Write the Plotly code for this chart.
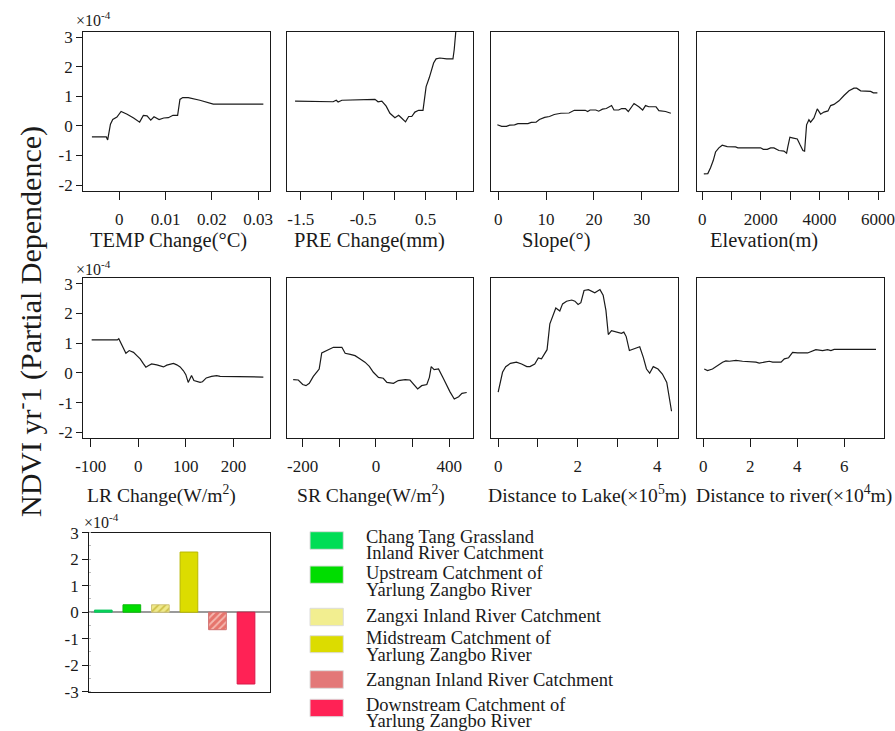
import plotly.graph_objects as go

# ---------------- data (partial dependence, units of 1e-4) ----------------
temp_x = [-0.0059, -0.0028, -0.0025, -0.0019, -0.0014, -0.0005, 0.0004, 0.0017, 0.0031, 0.0044,
          0.0052, 0.0060, 0.0068, 0.0075, 0.0086, 0.0096, 0.0106, 0.0116, 0.0126, 0.0131,
          0.0137, 0.0149, 0.0174, 0.0203, 0.0311]
temp_y = [-0.37, -0.37, -0.47, 0.06, 0.22, 0.30, 0.49, 0.40, 0.27, 0.13,
          0.36, 0.34, 0.20, 0.31, 0.22, 0.27, 0.28, 0.36, 0.36, 0.90,
          0.96, 0.96, 0.87, 0.74, 0.74]

pre_x = [-1.59, -0.98, -0.93, -0.90, -0.84, -0.36, -0.31, -0.26, -0.20, -0.13, -0.07, 0.01,
         0.07, 0.12, 0.18, 0.23, 0.28, 0.33, 0.39, 0.46, 0.48, 0.51, 0.56, 0.63, 0.67,
         0.73, 0.84, 0.94, 0.96, 0.97, 0.99]
pre_y = [0.84, 0.82, 0.87, 0.81, 0.87, 0.88, 0.90, 0.82, 0.84, 0.67, 0.43, 0.28,
         0.36, 0.26, 0.14, 0.32, 0.32, 0.47, 0.53, 0.53, 0.90, 1.33, 1.63, 2.13, 2.27,
         2.30, 2.27, 2.27, 2.58, 3.03, 3.30]

slope_x = [-0.2, 0.7, 1.7, 2.4, 3.4, 4.1, 6.2, 6.9, 7.9, 8.6, 9.7, 10.7, 11.7, 13.1, 14.8,
           15.9, 18.2, 18.7, 19.2, 20.4, 21.0, 21.8, 22.6, 23.3, 23.7, 24.2, 25.2, 25.8,
           26.6, 27.2, 27.9, 28.4, 29.4, 30.2, 30.8, 31.5, 33.0, 33.6, 35.0, 36.1]
slope_y = [0.04, -0.01, -0.01, 0.03, 0.04, 0.08, 0.08, 0.12, 0.13, 0.22, 0.29, 0.32, 0.39,
           0.43, 0.44, 0.53, 0.53, 0.49, 0.54, 0.54, 0.50, 0.57, 0.59, 0.66, 0.69, 0.54,
           0.54, 0.59, 0.59, 0.49, 0.63, 0.76, 0.65, 0.54, 0.69, 0.65, 0.65, 0.52, 0.49, 0.43]

elev_x = [55, 191, 284, 376, 455, 568, 683, 853, 1138, 1218, 1992, 2083, 2220, 2334, 2447,
          2618, 2789, 2880, 2925, 2993, 3073, 3244, 3335, 3437, 3494, 3562, 3642, 3699,
          3813, 3927, 4041, 4155, 4292, 4383, 4497, 4668, 4839, 5010, 5180, 5271, 5408,
          5750, 5841, 5978]
elev_y = [-1.62, -1.61, -1.41, -1.17, -0.88, -0.74, -0.65, -0.70, -0.71, -0.74, -0.74, -0.79,
          -0.79, -0.74, -0.74, -0.83, -0.85, -0.92, -0.69, -0.38, -0.40, -0.44, -0.63, -0.83,
          -0.85, 0.04, 0.21, 0.13, 0.27, 0.58, 0.40, 0.47, 0.51, 0.69, 0.73, 0.85, 1.03,
          1.19, 1.28, 1.28, 1.19, 1.17, 1.12, 1.12]

lr_x = [-98, -44, -41, -32, -26, -19, -10, -3, 4, 11, 16, 21, 28, 39, 46, 53, 60, 67, 74,
        81, 88, 95, 100, 105, 112, 117, 130, 135, 143, 154, 165, 172, 263]
lr_y = [1.11, 1.11, 1.15, 0.86, 0.66, 0.75, 0.69, 0.58, 0.47, 0.30, 0.19, 0.24, 0.30, 0.27,
        0.24, 0.20, 0.26, 0.30, 0.32, 0.27, 0.20, 0.07, -0.06, -0.32, -0.09, -0.26, -0.32,
        -0.30, -0.17, -0.12, -0.09, -0.12, -0.14]

sr_x = [-226, -212, -200, -191, -182, -171, -160, -155, -148, -139, -127, -116, -93, -84,
        -70, -57, -43, -30, -18, -7, 7, 20, 30, 48, 61, 80, 93, 102, 114, 125, 139, 146,
        151, 159, 171, 184, 193, 202, 214, 226, 235, 248]
sr_y = [-0.23, -0.24, -0.39, -0.43, -0.35, -0.12, 0.05, 0.13, 0.67, 0.73, 0.81, 0.86, 0.86,
        0.66, 0.62, 0.58, 0.47, 0.36, 0.22, 0.02, -0.15, -0.18, -0.32, -0.35, -0.26, -0.23,
        -0.24, -0.37, -0.54, -0.43, -0.39, -0.15, 0.21, 0.11, 0.13, -0.18, -0.43, -0.63,
        -0.88, -0.80, -0.69, -0.66]
sr_ticks = [-200, -100, 0, 100, 200]
sr_ticktext = ["-200", " ", "0", " ", "400"]

lake_x = [0.0, 0.06, 0.11, 0.19, 0.31, 0.46, 0.59, 0.72, 0.80, 0.92, 1.01, 1.09, 1.17, 1.23,
          1.30, 1.37, 1.45, 1.55, 1.62, 1.72, 1.85, 1.93, 2.01, 2.08, 2.16, 2.27, 2.43, 2.56,
          2.64, 2.71, 2.77, 2.85, 2.97, 3.10, 3.16, 3.22, 3.30, 3.40, 3.48, 3.56, 3.65, 3.73,
          3.81, 3.90, 4.02, 4.13, 4.24, 4.30, 4.36]
lake_y = [-0.65, -0.32, 0.02, 0.21, 0.32, 0.36, 0.30, 0.21, 0.21, 0.30, 0.50, 0.47, 0.64, 0.78,
          1.65, 1.88, 2.18, 2.08, 2.32, 2.41, 2.45, 2.41, 2.30, 2.36, 2.77, 2.80, 2.69, 2.80,
          2.61, 2.10, 1.29, 1.42, 1.37, 1.33, 1.37, 1.22, 0.75, 0.81, 0.84, 0.88, 0.52, 0.13,
          -0.01, 0.21, 0.13, -0.04, -0.32, -0.88, -1.29]

river_x = [0.04, 0.18, 0.39, 0.61, 0.82, 0.96, 1.11, 1.39, 1.67, 2.24, 2.38, 2.60, 2.81, 2.95,
           3.31, 3.45, 3.63, 3.80, 4.01, 4.44, 4.65, 4.79, 5.08, 5.29, 5.43, 5.57, 7.35]
river_y = [0.13, 0.08, 0.13, 0.25, 0.36, 0.40, 0.39, 0.42, 0.39, 0.36, 0.33, 0.36, 0.39, 0.36,
           0.36, 0.47, 0.51, 0.69, 0.67, 0.67, 0.73, 0.78, 0.75, 0.78, 0.75, 0.79, 0.79]

regions = ["Chang Tang Grassland<br>Inland River Catchment",
           "Upstream Catchment of<br>Yarlung Zangbo River",
           "Zangxi Inland River Catchment",
           "Midstream Catchment of<br>Yarlung Zangbo River",
           "Zangnan Inland River Catchment",
           "Downstream Catchment of<br>Yarlung Zangbo River"]
region_values = [0.08, 0.28, 0.28, 2.27, -0.66, -2.71]
region_colors = ["#00dd55", "#00dd00", "#efe98a", "#dcdc00", "#e6746c", "#ff2255"]
region_fg = ["#00dd55", "#00dd00", "#cfc24a", "#dcdc00", "#f6b8b0", "#ff2255"]
region_edge = ["#10c060", "#10b810", "#cfc47a", "#b8b800", "#d07070", "#d81848"]
region_pattern = ["", "", "/", "", "/", ""]
legend_colors = ["#00dd55", "#00dd00", "#f2ee90", "#dcdc00", "#e37878", "#ff2255"]

y_ticks = [-2, -1, 0, 1, 2, 3]
bar_ticks = [-3, -2, -1, 0, 1, 2, 3]

# ---------------- layout helpers ----------------
W, H = 895, 731
FONT = "Liberation Serif"


def px(x):
    return x / W


def py(y):
    return 1 - y / H


cols = [(83.3, 270.0), (286.7, 473.3), (491.0, 678.3), (696.5, 883.5)]
rows = [(32.0, 191.0), (278.3, 438.3)]
YR = [-2.2, 3.18]

panels = [
    dict(x=temp_x, y=temp_y, r=0, c=0, rng=[-0.00776, 0.03254], tv=[0, 0.01, 0.02, 0.03],
         tt=["0", "0.01", "0.02", "0.03"], title="TEMP Change(°C)", tx=168),
    dict(x=pre_x, y=pre_y, r=0, c=1, rng=[-1.724, 1.266], tv=[-1.5, -1, -0.5, 0, 0.5, 1],
         tt=["-1.5", " ", "-0.5", " ", "0.5", " "], title="PRE Change(mm)", tx=369),
    dict(x=slope_x, y=slope_y, r=0, c=2, rng=[-1.53, 37.66], tv=[0, 10, 20, 30],
         tt=["0", "10", "20", "30"], title="Slope(°)", tx=556),
    dict(x=elev_x, y=elev_y, r=0, c=3, rng=[-195, 6187],
         tv=[0, 1000, 2000, 3000, 4000, 5000, 6000],
         tt=["0", " ", "2000", " ", "4000", " ", "6000"], title="Elevation(m)", tx=764),
    dict(x=lr_x, y=lr_y, r=1, c=0, rng=[-115.6, 277], tv=[-100, 0, 100, 200],
         tt=["-100", "0", "100", "200"], title="LR Change(W/m<sup>2</sup>)", tx=161),
    dict(x=sr_x, y=sr_y, r=1, c=1, rng=[-243.7, 266], tv=sr_ticks,
         tt=sr_ticktext, title="SR Change(W/m<sup>2</sup>)", tx=371),
    dict(x=lake_x, y=lake_y, r=1, c=2, rng=[-0.18, 4.53], tv=[0, 1, 2, 3, 4],
         tt=["0", " ", "2", " ", "4"], title="Distance to Lake(×10<sup>5</sup>m)", tx=587),
    dict(x=river_x, y=river_y, r=1, c=3, rng=[-0.29, 7.67], tv=[0, 2, 4, 6],
         tt=["0", "2", "4", "6"], title="Distance to river(×10<sup>4</sup>m)", tx=794),
]

fig = go.Figure()
layout = dict(width=W, height=H, margin=dict(l=0, r=0, t=0, b=0, pad=0), autosize=False,
              paper_bgcolor="white", plot_bgcolor="white", showlegend=False,
              barmode="overlay",
              font=dict(family=FONT, size=17, color="#1a1a1a"))
annotations = []
shapes = []

axis_common = dict(showline=True, linecolor="#1a1a1a", linewidth=1.3, mirror=True,
                   showgrid=False, zeroline=False, tickcolor="#1a1a1a", tickwidth=1.3,
                   automargin=False, ticklabeloverflow="allow",
                   tickfont=dict(family=FONT, size=17, color="#1a1a1a"))

for i, p in enumerate(panels):
    n = i + 1
    xa = "xaxis" if n == 1 else f"xaxis{n}"
    ya = "yaxis" if n == 1 else f"yaxis{n}"
    x0, x1 = cols[p["c"]]
    y0, y1 = rows[p["r"]]
    fig.add_trace(go.Scatter(x=p["x"], y=p["y"], mode="lines",
                             line=dict(color="#1a1a1a", width=1.2),
                             xaxis=f"x{n}" if n > 1 else "x", yaxis=f"y{n}" if n > 1 else "y"))
    layout[xa] = dict(axis_common, domain=[px(x0), px(x1)], range=p["rng"],
                      anchor=f"y{n}" if n > 1 else "y", tickmode="array",
                      tickvals=p["tv"], ticktext=p["tt"], ticks="outside", ticklen=8,
                      ticklabelstandoff=4)
    showy = p["c"] == 0
    layout[ya] = dict(axis_common, domain=[py(y1), py(y0)], range=YR,
                      anchor=f"x{n}" if n > 1 else "x", tickmode="array",
                      tickvals=y_ticks, ticktext=[str(v) for v in y_ticks],
                      ticks="outside" if showy else "", ticklen=6, showticklabels=showy)
    title_y = 240 if p["r"] == 0 else 494
    tsize = 20.5 if p["r"] == 0 else 19.6
    annotations.append(dict(text=p["title"], x=px(p["tx"]), y=py(title_y), xref="paper",
                            yref="paper", showarrow=False, xanchor="center", yanchor="middle",
                            font=dict(family=FONT, size=tsize, color="#1a1a1a")))

# ---------------- bar panel (one trace per catchment) ----------------
for k, v in enumerate(region_values):
    mk = dict(color=region_colors[k], line=dict(color=region_edge[k], width=1))
    if region_pattern[k]:
        mk["pattern"] = dict(shape=region_pattern[k], fgcolor=region_fg[k],
                             bgcolor=region_colors[k], size=5, solidity=0.35,
                             fillmode="replace")
    fig.add_trace(go.Bar(x=[k], y=[v], width=0.62, marker=mk, name=regions[k],
                         xaxis="x9", yaxis="y9"))
layout["xaxis9"] = dict(axis_common, domain=[px(89.3), px(270.0)], range=[-0.49, 5.84],
                        anchor="y9", showticklabels=False, ticks="")
layout["yaxis9"] = dict(axis_common, domain=[py(691.7), py(532.7)], range=[-3, 3],
                        anchor="x9", tickmode="array", tickvals=bar_ticks,
                        ticktext=[str(v) for v in bar_ticks], ticks="outside", ticklen=6,
                        zeroline=True, zerolinecolor="#9a9a9a", zerolinewidth=1.5,
                        minor=dict(ticks="inside", ticklen=2, tickcolor="#bbbbbb",
                                   dtick=0.5, tick0=0.5))

# ---------------- ×10^-4 labels ----------------
for (xx, yy) in [(74, 19), (74, 268), (82, 521)]:
    annotations.append(dict(text="×10<sup>-4</sup>", x=px(xx), y=py(yy), xref="paper",
                            yref="paper", showarrow=False, xanchor="left", yanchor="middle",
                            font=dict(family=FONT, size=16, color="#1a1a1a")))

# ---------------- global y title ----------------
annotations.append(dict(text="NDVI yr<sup>-</sup>1 (Partial Dependence)", x=px(28), y=py(322),
                        xref="paper", yref="paper", showarrow=False, textangle=-90,
                        xanchor="center", yanchor="middle",
                        font=dict(family=FONT, size=30, color="#1a1a1a")))

# ---------------- legend (swatches + labels) ----------------
swatch_rows = [(531.7, 549.3), (566.0, 583.3), (608.3, 625.7), (635.7, 652.7),
               (670.7, 688.3), (699.3, 716.7)]
line_centers = [(536.7, 553.3), (572.7, 590.0), (616.0,), (638.3, 655.0), (680.0,),
                (705.0, 720.7)]
for k, lab in enumerate(regions):
    ya0, ya1 = swatch_rows[k]
    shapes.append(dict(type="rect", xref="paper", yref="paper", x0=px(310), x1=px(343.3),
                       y0=py(ya1), y1=py(ya0), fillcolor=legend_colors[k],
                       line=dict(color="#dddddd", width=1)))
    parts = lab.split("<br>")
    for j, part in enumerate(parts):
        annotations.append(dict(text=part, x=px(364), y=py(line_centers[k][j]), xref="paper",
                                yref="paper", showarrow=False, xanchor="left", yanchor="middle",
                                font=dict(family=FONT, size=18.5, color="#1a1a1a")))

layout["annotations"] = annotations
layout["shapes"] = shapes
fig.update_layout(**layout)
fig.write_html("out.html",
               post_script="document.body.style.margin='0';document.body.style.padding='0';")
